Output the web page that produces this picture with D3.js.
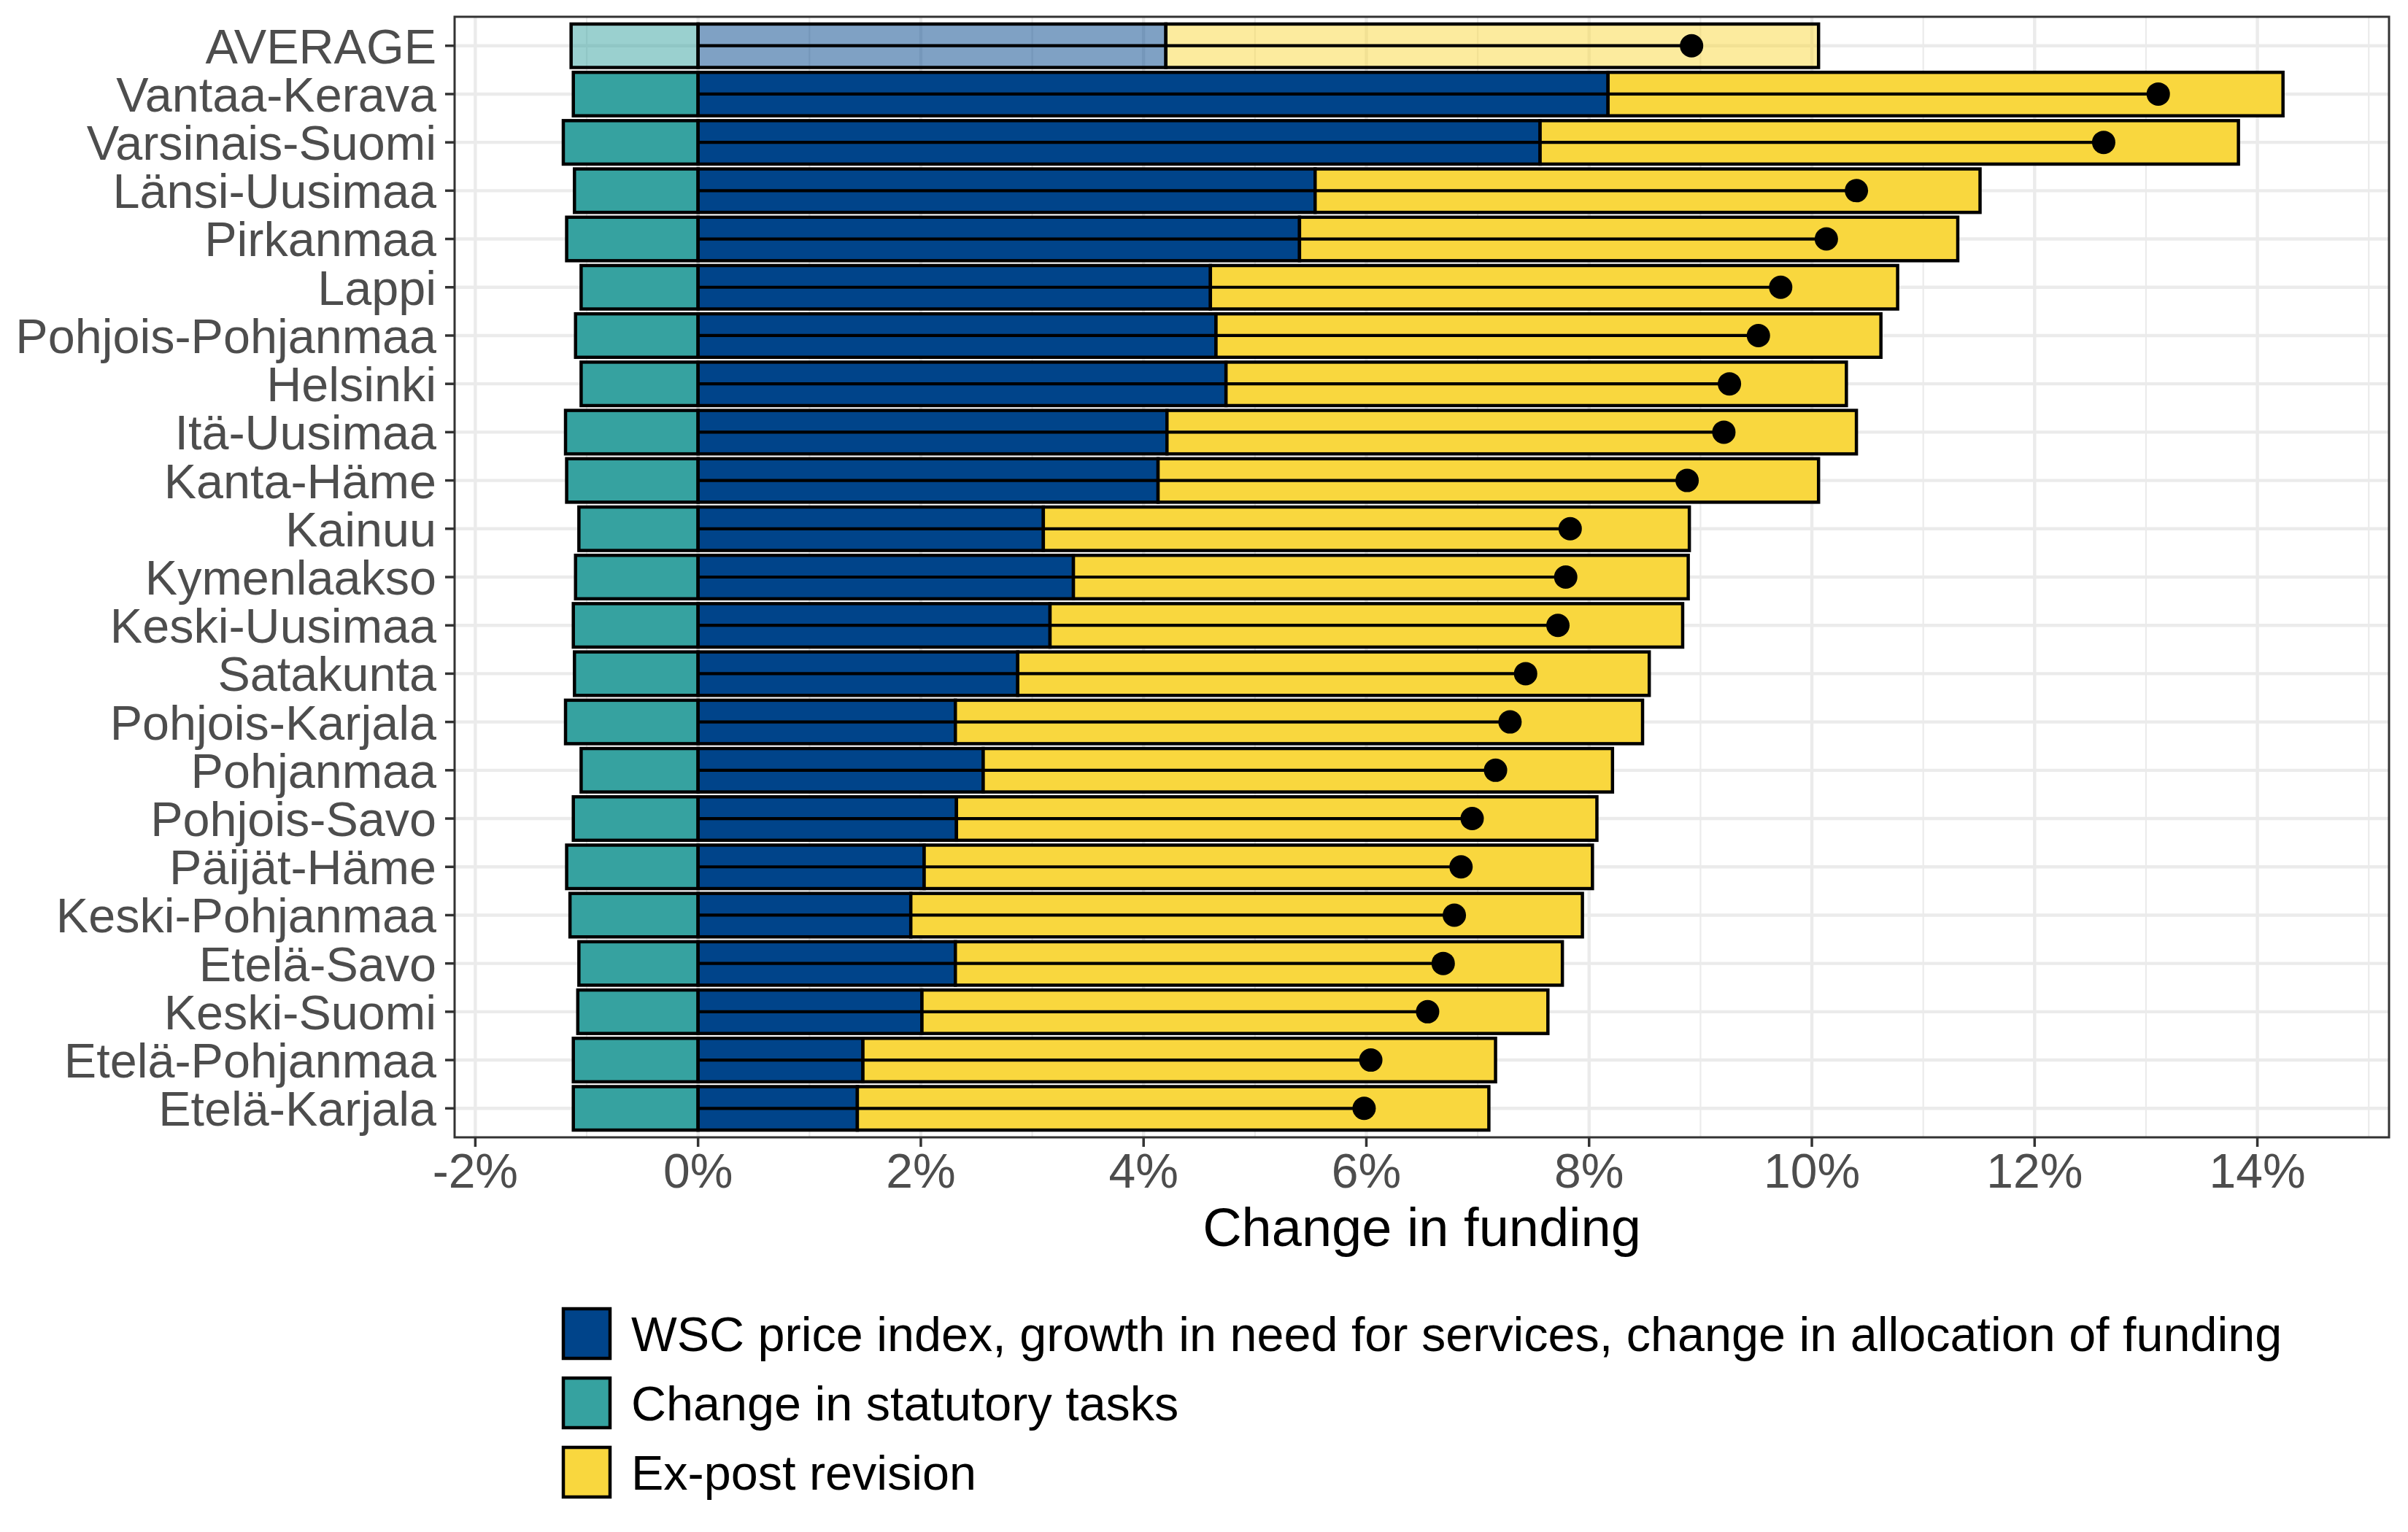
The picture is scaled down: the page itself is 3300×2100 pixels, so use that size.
<!DOCTYPE html>
<html>
<head>
<meta charset="utf-8">
<script src="https://cdn.jsdelivr.net/npm/d3@7"></script>
<style>
  html, body { margin: 0; padding: 0; background: #ffffff; }
  svg { display: block; }
  text { font-family: "Liberation Sans", Arial, Helvetica, sans-serif; }
</style>
</head>
<body>
<svg id="chart" width="3300" height="2100"></svg>
<script>
// ---- DATA ----
const categories = ["AVERAGE","Vantaa-Kerava","Varsinais-Suomi","Länsi-Uusimaa","Pirkanmaa","Lappi",
  "Pohjois-Pohjanmaa","Helsinki","Itä-Uusimaa","Kanta-Häme","Kainuu","Kymenlaakso","Keski-Uusimaa",
  "Satakunta","Pohjois-Karjala","Pohjanmaa","Pohjois-Savo","Päijät-Häme","Keski-Pohjanmaa","Etelä-Savo",
  "Keski-Suomi","Etelä-Pohjanmaa","Etelä-Karjala"];
// Change in statutory tasks (%)
const statutory = [-1.14,-1.12,-1.21,-1.11,-1.18,-1.05,-1.10,-1.05,-1.19,-1.18,-1.07,-1.10,-1.12,
  -1.11,-1.19,-1.05,-1.12,-1.18,-1.15,-1.07,-1.08,-1.12,-1.12];
// WSC price index, growth in need for services, change in allocation of funding (%)
const wsc = [4.20,8.17,7.56,5.54,5.40,4.60,4.65,4.74,4.21,4.13,3.10,3.37,3.16,
  2.87,2.31,2.56,2.32,2.03,1.91,2.31,2.01,1.48,1.43];
// Ex-post revision (%)
const expost = [5.86,6.06,6.27,5.97,5.91,6.17,5.97,5.57,6.19,5.93,5.80,5.52,5.68,
  5.67,6.17,5.65,5.75,6.00,6.03,5.45,5.62,5.68,5.67];
const xTicks = [-2,0,2,4,6,8,10,12,14];
const xMinorTicks = [-1,1,3,5,7,9,11,13,15];
const legendLabels = ["WSC price index, growth in need for services, change in allocation of funding",
  "Change in statutory tasks","Ex-post revision"];
const legendKeys = ["wsc","statutory","expost"];
const xTitle = "Change in funding";

// ---- STYLE ----
const colors = { wsc: "#00448A", statutory: "#36A2A0", expost: "#F9D73E" };
const panel = { left: 623, right: 3274, top: 23, bottom: 1559 };

const svg = d3.select("#chart");
svg.append("rect").attr("width", 3300).attr("height", 2100).attr("fill", "#ffffff");

const x = d3.scaleLinear().domain([-2.186, 15.182]).range([panel.left, panel.right]);
const y = d3.scaleBand().domain(categories).range([panel.top, panel.bottom])
  .paddingInner(0.1).paddingOuter(0.15);

const rows = categories.map((c, i) => ({
  cat: c, s: statutory[i], w: wsc[i], e: expost[i],
  net: statutory[i] + wsc[i] + expost[i], avg: i === 0
}));

// grid
const g = svg.append("g");
g.selectAll(".minor").data(xMinorTicks).join("line")
  .attr("x1", d => x(d)).attr("x2", d => x(d))
  .attr("y1", panel.top).attr("y2", panel.bottom)
  .attr("stroke", "#EBEBEB").attr("stroke-width", 2.2);
g.selectAll(".major").data(xTicks).join("line")
  .attr("x1", d => x(d)).attr("x2", d => x(d))
  .attr("y1", panel.top).attr("y2", panel.bottom)
  .attr("stroke", "#EBEBEB").attr("stroke-width", 4.4);
g.selectAll(".hmajor").data(categories).join("line")
  .attr("x1", panel.left).attr("x2", panel.right)
  .attr("y1", d => y(d) + y.bandwidth() / 2).attr("y2", d => y(d) + y.bandwidth() / 2)
  .attr("stroke", "#EBEBEB").attr("stroke-width", 4.4);

// bars
const bars = svg.append("g");
const segs = [];
rows.forEach(r => {
  segs.push({ cat: r.cat, x0: r.s, x1: 0, key: "statutory", avg: r.avg });
  segs.push({ cat: r.cat, x0: 0, x1: r.w, key: "wsc", avg: r.avg });
  segs.push({ cat: r.cat, x0: r.w, x1: r.w + r.e, key: "expost", avg: r.avg });
});
bars.selectAll("rect").data(segs).join("rect")
  .attr("x", d => x(Math.min(d.x0, d.x1)))
  .attr("width", d => Math.abs(x(d.x1) - x(d.x0)))
  .attr("y", d => y(d.cat))
  .attr("height", y.bandwidth())
  .attr("fill", d => colors[d.key])
  .attr("fill-opacity", d => d.avg ? 0.5 : 1)
  .attr("stroke", "#000000")
  .attr("stroke-width", 4.5);

// segments and points
const marks = svg.append("g");
marks.selectAll("line").data(rows).join("line")
  .attr("x1", x(0)).attr("x2", d => x(d.net))
  .attr("y1", d => y(d.cat) + y.bandwidth() / 2)
  .attr("y2", d => y(d.cat) + y.bandwidth() / 2)
  .attr("stroke", "#000000").attr("stroke-width", 4.2);
marks.selectAll("circle").data(rows).join("circle")
  .attr("cx", d => x(d.net))
  .attr("cy", d => y(d.cat) + y.bandwidth() / 2)
  .attr("r", 16).attr("fill", "#000000");

// panel border
svg.append("rect")
  .attr("x", panel.left).attr("y", panel.top)
  .attr("width", panel.right - panel.left).attr("height", panel.bottom - panel.top)
  .attr("fill", "none").attr("stroke", "#333333").attr("stroke-width", 3);

// y axis
const yAx = svg.append("g");
yAx.selectAll("line").data(categories).join("line")
  .attr("x1", panel.left - 13).attr("x2", panel.left)
  .attr("y1", d => y(d) + y.bandwidth() / 2).attr("y2", d => y(d) + y.bandwidth() / 2)
  .attr("stroke", "#333333").attr("stroke-width", 3.5);
yAx.selectAll("text").data(categories).join("text")
  .attr("x", 598)
  .attr("y", d => y(d) + y.bandwidth() / 2)
  .attr("dy", "0.36em")
  .attr("text-anchor", "end")
  .attr("font-size", 66.5)
  .attr("fill", "#4D4D4D")
  .text(d => d);

// x axis
const xAx = svg.append("g");
xAx.selectAll("line").data(xTicks).join("line")
  .attr("x1", d => x(d)).attr("x2", d => x(d))
  .attr("y1", panel.bottom).attr("y2", panel.bottom + 13)
  .attr("stroke", "#333333").attr("stroke-width", 3.5);
xAx.selectAll("text").data(xTicks).join("text")
  .attr("x", d => x(d))
  .attr("y", 1628)
  .attr("text-anchor", "middle")
  .attr("font-size", 66)
  .attr("fill", "#4D4D4D")
  .text(d => d + "%");

svg.append("text")
  .attr("x", (panel.left + panel.right) / 2)
  .attr("y", 1708)
  .attr("text-anchor", "middle")
  .attr("font-size", 74)
  .attr("fill", "#000000")
  .text(xTitle);

// legend
const leg = svg.append("g");
legendLabels.forEach((lab, i) => {
  const cy = 1828 + i * 95;
  leg.append("rect")
    .attr("x", 772).attr("y", cy - 34)
    .attr("width", 64).attr("height", 68)
    .attr("fill", colors[legendKeys[i]])
    .attr("stroke", "#000000").attr("stroke-width", 4.5);
  leg.append("text")
    .attr("x", 865).attr("y", cy).attr("dy", "0.36em")
    .attr("font-size", 66.5).attr("fill", "#000000")
    .text(lab);
});
</script>
</body>
</html>
